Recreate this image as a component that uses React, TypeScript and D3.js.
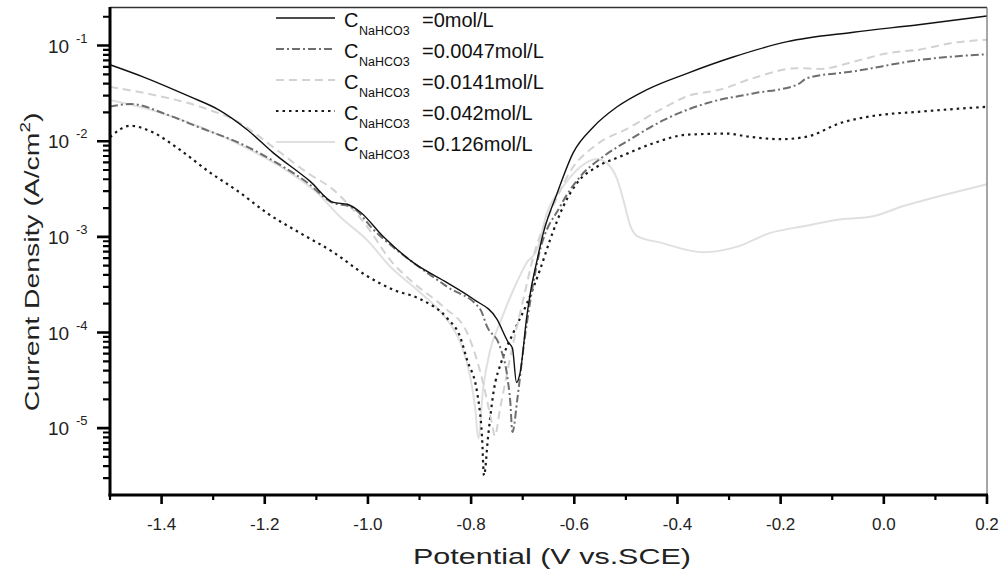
import React from "react";
import * as d3 from "d3";

// potentials (V vs SCE) and current densities (A/cm2)
const pot0 = [-1.5, -1.436, -1.345, -1.29, -1.234, -1.184, -1.112, -1.067, -1.04, -1.015, -0.97, -0.912, -0.846, -0.796, -0.75, -0.728, -0.72, -0.712, -0.705, -0.692, -0.685, -0.672, -0.66, -0.633, -0.602, -0.563, -0.517, -0.459, -0.381, -0.292, -0.187, -0.059, 0.071, 0.2];
const cur0 = [0.063, 0.0471, 0.0292, 0.0214, 0.0132, 0.0076, 0.0038, 0.00229, 0.00219, 0.00182, 0.001, 0.000537, 0.000331, 0.000224, 0.000138, 7.9e-5, 6.9e-5, 3.0e-5, 3.8e-5, 1.48e-4, 2.63e-4, 5.75e-4, 1.1e-3, 2.88e-3, 7.6e-3, 0.0141, 0.0229, 0.0347, 0.0513, 0.0759, 0.11, 0.138, 0.166, 0.204];

const pot1 = [-1.5, -1.46, -1.39, -1.325, -1.248, -1.176, -1.118, -1.073, -1.028, -0.99, -0.912, -0.846, -0.782, -0.769, -0.744, -0.73, -0.724, -0.72, -0.71, -0.699, -0.685, -0.67, -0.627, -0.588, -0.544, -0.491, -0.427, -0.342, -0.253, -0.168, -0.148, -0.059, 0.071, 0.2];
const cur1 = [0.023, 0.0245, 0.019, 0.0138, 0.0095, 0.0059, 0.0037, 0.00234, 0.002, 0.0012, 0.000537, 0.0003, 0.000174, 0.000115, 7.1e-5, 3.5e-5, 1.86e-5, 9.1e-6, 2.1e-5, 6.6e-5, 2.2e-4, 6.0e-4, 2.1e-3, 4.3e-3, 6.9e-3, 0.0105, 0.0166, 0.0251, 0.0316, 0.0389, 0.0457, 0.0537, 0.0708, 0.0813];

const pot2 = [-1.5, -1.422, -1.325, -1.248, -1.184, -1.118, -1.067, -1.035, -1.002, -0.957, -0.912, -0.854, -0.808, -0.777, -0.76, -0.754, -0.744, -0.718, -0.699, -0.679, -0.641, -0.602, -0.563, -0.491, -0.433, -0.381, -0.317, -0.253, -0.168, -0.123, -0.059, 0.007, 0.071, 0.135, 0.2];
const cur2 = [0.037, 0.031, 0.0229, 0.0155, 0.0087, 0.0047, 0.0031, 0.0021, 0.00129, 0.000575, 0.000331, 0.000186, 1.0e-4, 3.0e-5, 1.15e-5, 8.3e-6, 1.58e-5, 7.9e-5, 2.2e-4, 6.3e-4, 2.1e-3, 5.4e-3, 8.7e-3, 0.0141, 0.0214, 0.0295, 0.0347, 0.0457, 0.058, 0.057, 0.0676, 0.0832, 0.0912, 0.107, 0.115];

const pot3 = [-1.5, -1.461, -1.416, -1.364, -1.306, -1.248, -1.196, -1.132, -1.067, -1.002, -0.951, -0.899, -0.846, -0.821, -0.808, -0.788, -0.779, -0.775, -0.767, -0.757, -0.74, -0.718, -0.692, -0.666, -0.647, -0.621, -0.594, -0.556, -0.511, -0.447, -0.381, -0.303, -0.265, -0.2, -0.148, -0.084, -0.026, 0.071, 0.2];
const cur3 = [0.011, 0.0145, 0.0123, 0.0081, 0.0047, 0.0029, 0.00178, 0.0011, 0.00069, 0.00039, 0.00028, 0.000224, 0.00014, 8.9e-5, 5.2e-5, 2.3e-5, 8.3e-6, 3.2e-6, 8.3e-6, 2.3e-5, 5.2e-5, 1.0e-4, 2.0e-4, 4.6e-4, 9.3e-4, 2.1e-3, 3.7e-3, 5.4e-3, 6.9e-3, 9.5e-3, 0.0117, 0.012, 0.0112, 0.0105, 0.0112, 0.0155, 0.0182, 0.0204, 0.0229];

const pot4 = [-1.5, -1.422, -1.325, -1.228, -1.151, -1.099, -1.054, -1.002, -0.957, -0.905, -0.86, -0.835, -0.821, -0.802, -0.792, -0.786, -0.777, -0.763, -0.744, -0.718, -0.692, -0.672, -0.653, -0.621, -0.588, -0.556, -0.537, -0.517, -0.505, -0.491, -0.478, -0.433, -0.35, -0.284, -0.22, -0.156, -0.09, -0.026, 0.038, 0.1, 0.2];
const cur4 = [0.027, 0.0214, 0.0141, 0.0081, 0.0047, 0.0029, 0.00162, 0.00093, 0.00049, 0.00028, 1.66e-4, 1.1e-4, 7.9e-5, 3.5e-5, 1.6e-5, 7.8e-6, 2.5e-5, 6.6e-5, 1.26e-4, 2.8e-4, 5.4e-4, 7.4e-4, 1.78e-3, 3.4e-3, 5.4e-3, 6.5e-3, 5.9e-3, 4.0e-3, 2.45e-3, 1.29e-3, 1.02e-3, 8.7e-4, 6.9e-4, 7.9e-4, 1.1e-3, 1.29e-3, 1.51e-3, 1.62e-3, 2.1e-3, 2.6e-3, 3.55e-3];

const concLabels = ["=0mol/L", "=0.0047mol/L", "=0.0141mol/L", "=0.042mol/L", "=0.126mol/L"];
const xTicks = [-1.4, -1.2, -1.0, -0.8, -0.6, -0.4, -0.2, 0.0, 0.2];
const xTickLabels = ["-1.4", "-1.2", "-1.0", "-0.8", "-0.6", "-0.4", "-0.2", "0.0", "0.2"];
const xMinor = [-1.5, -1.3, -1.1, -0.9, -0.7, -0.5, -0.3, -0.1, 0.1];
const yExps = [-1, -2, -3, -4, -5];

const styles = [
  { stroke: "#111", width: 1.4, dash: null },
  { stroke: "#6e6e6e", width: 2, dash: "8,3,2,3" },
  { stroke: "#d2d2d2", width: 2, dash: "8,5" },
  { stroke: "#1a1a1a", width: 2.2, dash: "2.5,4" },
  { stroke: "#e0e0e0", width: 2, dash: null },
];

const FONT = "'Liberation Sans', Arial, sans-serif";

export default function App() {
  const left = 110, right = 987, top = 7.5, bottom = 495;

  const x = d3.scaleLinear().domain([-1.5, 0.2]).range([left, right]);
  const y = d3.scaleLog().domain([2e-6, 0.25]).range([bottom, top]);

  const series = [
    [pot0, cur0],
    [pot1, cur1],
    [pot2, cur2],
    [pot3, cur3],
    [pot4, cur4],
  ];

  const line = d3
    .line<[number, number]>()
    .x((d) => x(d[0]))
    .y((d) => y(d[1]))
    .curve(d3.curveMonotoneX);

  // minor y ticks: 2..9 x 10^n inside the domain
  const yMinor: number[] = [];
  for (let e = -6; e <= -1; e++) {
    for (let m = 2; m <= 9; m++) {
      const v = m * Math.pow(10, e);
      if (v > 2.01e-6 && v < 0.25) yMinor.push(v);
    }
  }

  let yMinorD = "";
  yMinor.forEach((v) => {
    yMinorD += `M${left - 7},${y(v)}H${left}`;
  });
  let yMajorD = "";
  yExps.forEach((e) => {
    yMajorD += `M${left - 13},${y(Math.pow(10, e))}H${left}`;
  });
  let xMinorD = "";
  xMinor.forEach((v) => {
    xMinorD += `M${x(v)},${bottom}V${bottom + 5}`;
  });
  let xMajorD = "";
  xTicks.forEach((v) => {
    xMajorD += `M${x(v)},${bottom}V${bottom + 9}`;
  });

  return (
    <svg width={1002} height={576} style={{ position: "absolute", left: 0, top: 0 }}>
      <rect x={0} y={0} width={1002} height={576} fill="#fff" />

      {/* curves, last series drawn first */}
      {series
        .map((s, i) => ({ s, i }))
        .reverse()
        .map(({ s, i }) => (
          <path
            key={i}
            d={line(s[0].map((p, k) => [p, s[1][k]] as [number, number])) || ""}
            fill="none"
            stroke={styles[i].stroke}
            strokeWidth={styles[i].width}
            strokeDasharray={styles[i].dash || undefined}
            strokeLinejoin="round"
          />
        ))}

      {/* y tick labels */}
      {yExps.map((e) => (
        <g key={"ye" + e}>
          <text x={48} y={y(Math.pow(10, e)) + 7} fontFamily={FONT} fontSize={19} fill="#222">
            10
          </text>
          <text x={76} y={y(Math.pow(10, e)) - 3} fontFamily={FONT} fontSize={13} fill="#222">
            {String(e)}
          </text>
        </g>
      ))}

      {/* x tick labels */}
      {xTicks.map((v, i) => (
        <text key={"xt" + i} x={x(v)} y={530} textAnchor="middle" fontFamily={FONT} fontSize={17} fill="#222">
          {xTickLabels[i]}
        </text>
      ))}

      {/* axis titles */}
      <text
        x={552}
        y={564}
        textAnchor="middle"
        fontFamily={FONT}
        fontSize={22}
        textLength={278}
        lengthAdjust="spacingAndGlyphs"
        fill="#222"
      >
        Potential (V vs.SCE)
      </text>
      <g transform="translate(39,262) rotate(-90) scale(1.35,1)">
        <text x={0} y={0} textAnchor="middle" fontFamily={FONT} fontSize={21} fill="#222">
          Current Density (A/cm<tspan dy={-9} fontSize={14}>2</tspan>
          <tspan dy={9}>)</tspan>
        </text>
      </g>

      {/* legend */}
      {concLabels.map((lab, i) => {
        const ly = 18 + i * 31;
        return (
          <g key={"lg" + i}>
            <line
              x1={276}
              x2={335}
              y1={ly}
              y2={ly}
              stroke={styles[i].stroke}
              strokeWidth={styles[i].width}
              strokeDasharray={styles[i].dash || undefined}
            />
            <text x={344} y={ly + 9} fontFamily={FONT} fontSize={20} fill="#111">
              C
            </text>
            <text x={359} y={ly + 17} fontFamily={FONT} fontSize={12.5} fill="#111">
              NaHCO3
            </text>
            <text x={422} y={ly + 9} fontFamily={FONT} fontSize={20} fill="#111">
              {lab}
            </text>
          </g>
        );
      })}

      {/* frame, axes and ticks on top */}
      <path d={`M${left},${top}H${right}`} stroke="#333" strokeWidth={1.3} fill="none" />
      <path d={`M${right},${top}V${bottom}`} stroke="#777" strokeWidth={1.3} fill="none" />
      <rect x={left - 1.5} y={top - 0.5} width={3} height={bottom - top + 2} fill="#000" />
      <rect x={left - 1.5} y={bottom - 1.5} width={right - left + 2.5} height={3} fill="#000" />
      <path d={yMinorD} stroke="#000" strokeWidth={2.2} fill="none" />
      <path d={yMajorD} stroke="#000" strokeWidth={2.6} fill="none" />
      <path d={xMinorD} stroke="#000" strokeWidth={2.2} fill="none" />
      <path d={xMajorD} stroke="#000" strokeWidth={2.6} fill="none" />
    </svg>
  );
}
